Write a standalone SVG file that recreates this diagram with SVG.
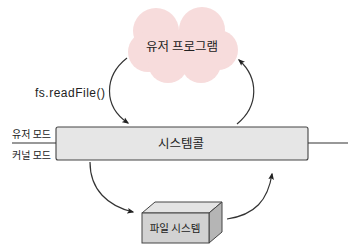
<svg xmlns="http://www.w3.org/2000/svg" width="359" height="246" viewBox="0 0 359 246">
<style>
.t{font-family:"Noto Sans CJK KR","Noto Sans",sans-serif;fill:#222}
.c{fill:none;stroke:#333;stroke-width:1.2}
.l{stroke:#333;stroke-width:1.1}
</style>
<defs>
<marker id="ah" viewBox="0 0 10 10" refX="8" refY="5" markerWidth="7" markerHeight="7" orient="auto" markerUnits="userSpaceOnUse">
<path d="M0,1 L10,5 L0,9 L2,5 Z" fill="#222"/>
</marker>
</defs>
<rect width="359" height="246" fill="#fff"/>
<g id="cloud">
<g fill="#f7dcdc">
<circle cx="156" cy="31" r="23"/>
<circle cx="202" cy="30" r="23"/>
<circle cx="218" cy="50" r="20"/>
<circle cx="148" cy="52" r="20"/>
<circle cx="168" cy="63" r="20"/>
<circle cx="201" cy="63" r="20"/>
<rect x="150" y="30" width="60" height="40"/>
</g>
<text class="t" x="182" y="51" font-size="12.5" text-anchor="middle">유저 프로그램</text>
</g>
<g id="syscall">
<rect x="56" y="127" width="252" height="33" rx="2" fill="#e6e6e6" stroke="#444" stroke-width="1.1"/>
<text class="t" x="181" y="148" font-size="12.5" text-anchor="middle">시스템콜</text>
</g>
<g id="modes">
<line class="l" x1="12" y1="143" x2="56" y2="143"/>
<line class="l" x1="308" y1="143" x2="348" y2="143"/>
<text class="t" x="12" y="138" font-size="10">유저 모드</text>
<text class="t" x="12" y="159" font-size="10">커널 모드</text>
</g>
<g id="filesystem">
<polygon points="142,213 155,202 222,202 209,213" fill="#e4e4e4" stroke="#444" stroke-width="1"/>
<polygon points="209,213 222,202 222,232 209,243" fill="#b5b5b5" stroke="#444" stroke-width="1"/>
<rect x="142" y="213" width="67" height="30" fill="#d2d2d2" stroke="#444" stroke-width="1"/>
<text class="t" x="175" y="232" font-size="10.5" text-anchor="middle">파일 시스템</text>
</g>
<g id="connectors">
<path class="c" d="M127,58 C104,76 103,106 128,123" marker-end="url(#ah)"/>
<path class="c" d="M237,124 C259,106 259,78 239,60" marker-end="url(#ah)"/>
<path class="c" d="M90,162 C90,190 108,206 133,212" marker-end="url(#ah)"/>
<path class="c" d="M227,219 C255,215 268,200 272,174" marker-end="url(#ah)"/>
<text x="35" y="97" font-family="Liberation Sans, sans-serif" font-size="12" letter-spacing="0.5" fill="#222">fs.readFile()</text>
</g>
</svg>
